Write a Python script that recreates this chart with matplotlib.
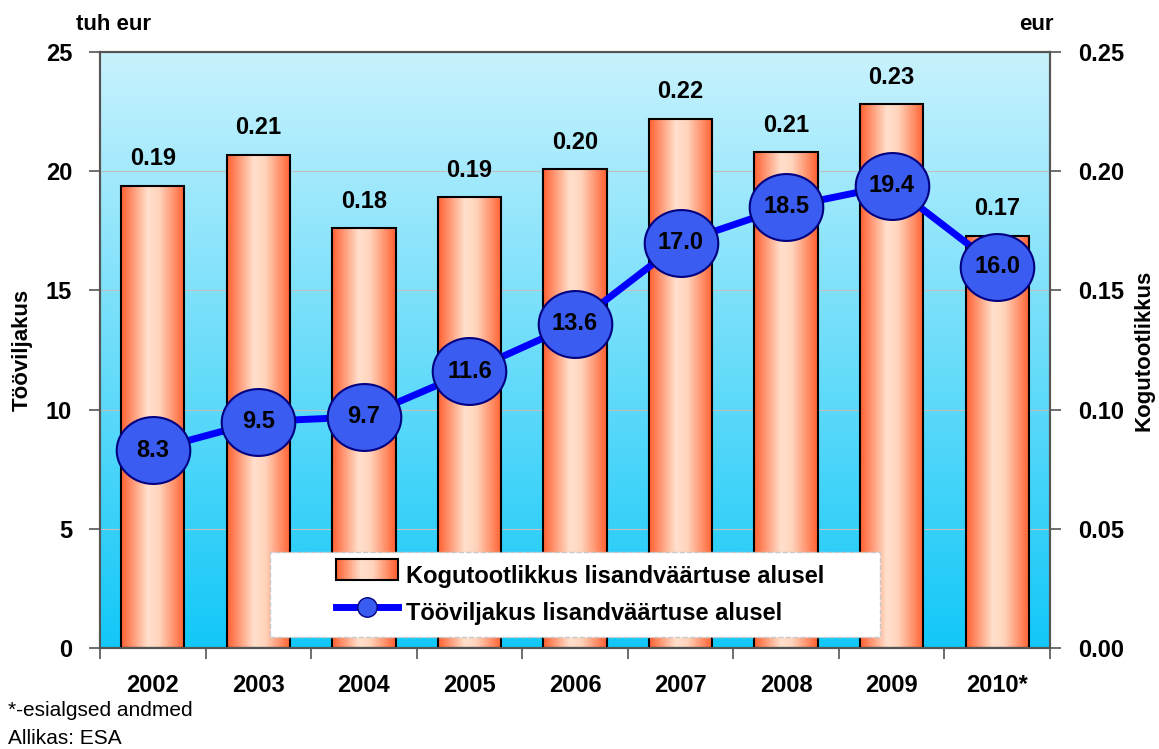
import numpy as np
import matplotlib
matplotlib.use("Agg")
import matplotlib.pyplot as plt
from matplotlib.path import Path
from matplotlib.patches import Rectangle
from matplotlib.colors import LinearSegmentedColormap
from matplotlib.legend_handler import HandlerBase
from matplotlib.lines import Line2D

years = ['2002', '2003', '2004', '2005', '2006', '2007', '2008', '2009', '2010*']
kogutootlikkus = [0.194, 0.207, 0.176, 0.189, 0.201, 0.222, 0.208, 0.228, 0.173]
kogu_labels = ['0.19', '0.21', '0.18', '0.19', '0.20', '0.22', '0.21', '0.23', '0.17']
tooviljakus = [8.3, 9.5, 9.7, 11.6, 13.6, 17.0, 18.5, 19.4, 16.0]

plt.rcParams['font.family'] = ['Liberation Sans', 'DejaVu Sans']

fig = plt.figure(figsize=(11.59, 7.49), dpi=100)
ax1 = fig.add_axes([100/1159, 1-648/749, 950/1159, 596/749])
ax2 = ax1.twinx()

x = np.arange(len(years))
n = len(years)
ax1.set_xlim(-0.5, n-0.5)
ax1.set_ylim(0, 0.25)
ax2.set_ylim(0, 25)

# background gradient
bg = LinearSegmentedColormap.from_list('bg', ['#12c8f8', '#c8f2fd'])
grad = np.linspace(0, 1, 256).reshape(-1, 1)
ax1.imshow(grad, cmap=bg, origin='lower', aspect='auto',
           extent=(-0.5, n-0.5, 0, 0.25), zorder=0)

# grid
for v in np.arange(0.05, 0.26, 0.05):
    ax1.axhline(v, color='#c0c0c0', lw=0.8, zorder=1)

# bars with horizontal gradient
barcm = LinearSegmentedColormap.from_list('bar', [(0, '#ff6030'), (0.42, '#ffe0cc'),
                                                  (0.6, '#ffd4bc'), (1, '#ff6030')])
hgrad = np.linspace(0, 1, 256).reshape(1, -1)
bars = ax1.bar(x, kogutootlikkus, width=0.6, facecolor='none', edgecolor='black',
               linewidth=1.5, zorder=3)
for b in bars:
    im = ax1.imshow(hgrad, cmap=barcm, aspect='auto', zorder=2,
                    extent=(b.get_x(), b.get_x()+b.get_width(), 0, b.get_height()))
    im.set_clip_path(b)
for xi, v, lab in zip(x, kogutootlikkus, kogu_labels):
    ax1.annotate(lab, (xi, v), xytext=(0, 11), textcoords='offset points',
                 ha='center', va='bottom', fontsize=17, fontweight='bold')

# line with elliptical markers
t = np.linspace(0, 2*np.pi, 60)
ell = Path(np.column_stack([1.1*np.cos(t), np.sin(t)]), closed=True)
ax2.plot(x, tooviljakus, color='#0000ff', lw=5, marker=ell, markersize=53,
         markerfacecolor='#3a5cf0', markeredgecolor='#000080', markeredgewidth=1.5,
         zorder=5)
for xi, v in zip(x, tooviljakus):
    ax2.text(xi, v, f'{v:.1f}', ha='center', va='center', fontsize=17,
             fontweight='bold', zorder=6)

# axes styling: bars axis on the right, line axis on the left
ax1.yaxis.tick_right()
ax2.yaxis.tick_left()
ax1.set_yticks(np.arange(0, 0.26, 0.05))
ax1.set_yticklabels([f'{v:.2f}' for v in np.arange(0, 0.26, 0.05)])
ax2.set_yticks(np.arange(0, 26, 5))
for ax in (ax1, ax2):
    ax.tick_params(axis='y', direction='out', length=8, width=1.2, color='#555555',
                   labelsize=17, pad=12)
    for lbl in ax.get_yticklabels():
        lbl.set_fontweight('bold')
    for s in ax.spines.values():
        s.set_color('#555555')
        s.set_linewidth(1.5)
ax1.spines['bottom'].set_color('black')

ax1.set_xticks(np.arange(-0.5, n, 1.0))
ax1.set_xticklabels([])
ax1.tick_params(axis='x', direction='out', length=8, width=1.2, color='#555555')
ax1.set_xticks(x, minor=True)
ax1.set_xticklabels(years, minor=True, fontsize=17, fontweight='bold')
ax1.tick_params(axis='x', which='minor', length=0, pad=19)

fig.text(22/1159, 1-350/749, 'Tööviljakus', rotation=90, ha='center', va='center',
         fontsize=16, fontweight='bold')
fig.text(1144/1159, 1-350/749, 'Kogutootlikkus', rotation=90, ha='center', va='center',
         fontsize=16, fontweight='bold')
fig.text(113/1159, 1-25/749, 'tuh eur', ha='center', va='center', fontsize=16,
         fontweight='bold')
fig.text(1036/1159, 1-25/749, 'eur', ha='center', va='center', fontsize=16,
         fontweight='bold')
fig.text(8/1159, 1-710/749, '*-esialgsed andmed', ha='left', va='center', fontsize=15)
fig.text(8/1159, 1-738/749, 'Allikas: ESA', ha='left', va='center', fontsize=15)

HW = 62  # drawn width of legend keys in pixels


class GradHandler(HandlerBase):
    def create_artists(self, legend, orig, xd, yd, w, h, fs, trans):
        arts = []
        kw = HW * 0.72
        x0 = xd + w - kw
        k = 30
        for i in range(k):
            arts.append(Rectangle((x0 + kw*i/k, yd), kw/k + 0.3, h,
                                  facecolor=barcm((i + 0.5)/k), edgecolor='none',
                                  transform=trans))
        arts.append(Rectangle((x0, yd), kw, h, facecolor='none', edgecolor='black',
                              lw=1.5, transform=trans))
        return arts


class LineHandler(HandlerBase):
    def create_artists(self, legend, orig, xd, yd, w, h, fs, trans):
        kw = HW * 0.72
        x0 = xd + w - kw
        ln = Line2D([x0, x0 + kw], [yd + h/2]*2, color='#0000ff', lw=5,
                    transform=trans)
        mk = Line2D([x0 + kw/2], [yd + h/2], marker='o', markersize=14,
                    markerfacecolor='#3a5cf0', markeredgecolor='#000080',
                    linestyle='none', transform=trans)
        return [ln, mk]


bar_handle = Rectangle((0, 0), 1, 1)
line_handle = Line2D([], [])
leg = ax2.legend([bar_handle, line_handle],
                 ['Kogutootlikkus lisandväärtuse alusel', 'Tööviljakus lisandväärtuse alusel'],
                 handler_map={Rectangle: GradHandler(), Line2D: LineHandler()},
                 loc='lower left', bbox_to_anchor=(0.179, 0.018, 0.642, 0.141),
                 mode='expand', borderaxespad=0, fancybox=False, framealpha=1,
                 handlelength=4.9, handleheight=1.0, handletextpad=0.35,
                 borderpad=0.5, labelspacing=0.6,
                 prop={'size': 17, 'weight': 'bold'})
leg.get_frame().set_edgecolor('#c8c8c8')
leg.get_frame().set_linestyle('--')
leg.set_zorder(10)

fig.savefig('out.png', dpi=100)
